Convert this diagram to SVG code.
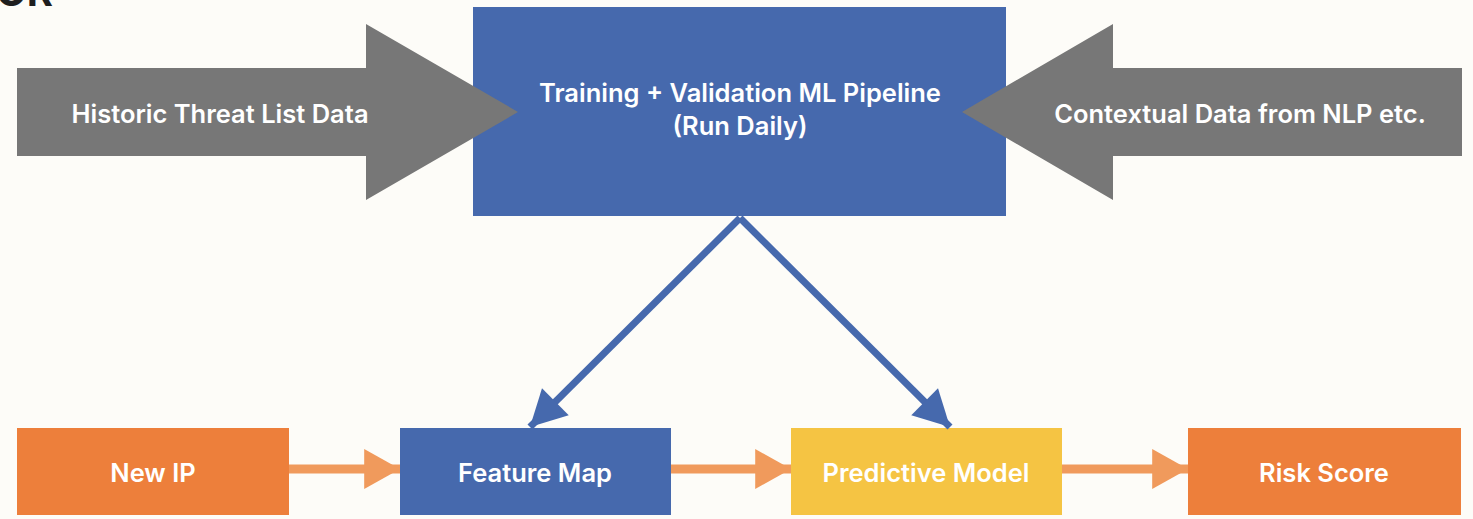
<svg xmlns="http://www.w3.org/2000/svg" width="1473" height="519" viewBox="0 0 1473 519">
<style>
.lbl{font-family:Inter,"Liberation Sans",sans-serif;font-weight:600;font-size:25.5px;fill:#ffffff;text-anchor:middle;dominant-baseline:central}
.blue{fill:#4669AD}
.orange{fill:#ED7F3B}
.yellow{fill:#F5C443}
.gray{fill:#777777}
.bconn{stroke:#4669AD;stroke-width:7;fill:none}
.oconn{stroke:#F09A5C;stroke-width:9;fill:none}
</style>
<defs>
<marker id="bh" markerUnits="userSpaceOnUse" markerWidth="40" markerHeight="40" viewBox="0 0 34 38" refX="34" refY="19" orient="auto">
<path d="M0,1 L34,19 L0,37 Z" fill="#4669AD"/>
</marker>
<marker id="oh" markerUnits="userSpaceOnUse" markerWidth="36" markerHeight="40" viewBox="0 0 34 38" refX="34" refY="19" orient="auto">
<path d="M0,0 L34,19 L0,38 Z" fill="#F09A5C"/>
</marker>
</defs>
<rect width="1473" height="519" fill="#FDFCF8"/>
<text x="-4" y="6" font-family="Inter,'Liberation Sans',sans-serif" font-weight="700" font-size="40" fill="#1e1e1e">OR</text>
<g id="pipeline">
<rect class="blue" x="473" y="7" width="533" height="209"/>
<text class="lbl" x="740" y="92">Training + Validation ML Pipeline</text>
<text class="lbl" x="740" y="125">(Run Daily)</text>
</g>
<g id="historic">
<polygon class="gray" points="17,68 366,68 366,24 518,112 366,200 366,156 17,156"/>
<text class="lbl" x="220" y="113">Historic Threat List Data</text>
</g>
<g id="contextual">
<polygon class="gray" points="1462,68 1113,68 1113,24 962,112 1113,200 1113,156 1462,156"/>
<text class="lbl" x="1240" y="113">Contextual Data from NLP etc.</text>
</g>
<g id="newip">
<rect class="orange" x="17" y="428" width="272" height="87"/>
<text class="lbl" x="153" y="472">New IP</text>
</g>
<g id="featuremap">
<rect class="blue" x="400" y="428" width="271" height="87"/>
<text class="lbl" x="535" y="472">Feature Map</text>
</g>
<g id="predictive">
<rect class="yellow" x="791" y="428" width="271" height="87"/>
<text class="lbl" x="926" y="472">Predictive Model</text>
</g>
<g id="riskscore">
<rect class="orange" x="1188" y="428" width="273" height="87"/>
<text class="lbl" x="1324" y="472">Risk Score</text>
</g>
<g id="connectors">
<line class="bconn" x1="740" y1="218" x2="530" y2="427" marker-end="url(#bh)"/>
<line class="bconn" x1="740" y1="218" x2="950" y2="427" marker-end="url(#bh)"/>
<line class="oconn" x1="289" y1="469" x2="400" y2="469" marker-end="url(#oh)"/>
<line class="oconn" x1="671" y1="469" x2="791" y2="469" marker-end="url(#oh)"/>
<line class="oconn" x1="1062" y1="469" x2="1188" y2="469" marker-end="url(#oh)"/>
</g>
</svg>
